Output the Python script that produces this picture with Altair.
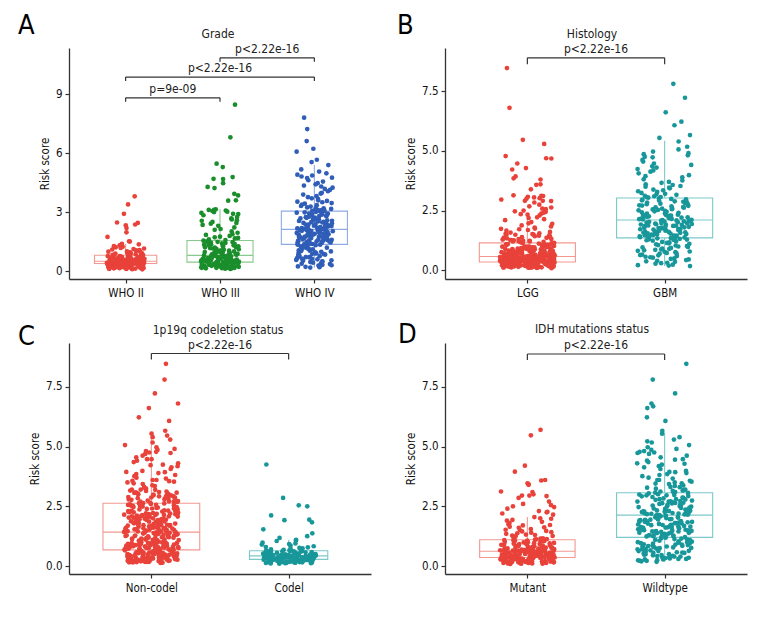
import altair as alt
import pandas as pd

FONT = "Liberation Sans Narrow, DejaVu Sans Condensed, Arial Narrow, Roboto, sans-serif"

# ---------------- data ----------------
grade_cats = ["WHO II", "WHO III", "WHO IV"]
who2_scores = [3.8, 3.39, 2.91, 2.47, 2.45, 2.37, 2.33, 2.19, 1.97, 1.74, 1.52, 1.5, 1.39, 1.36, 1.31, 1.24,
               1.21, 1.15, 1.12, 1.07, 1.03, 0.99, 0.96, 0.91, 0.89, 0.86, 0.83,
               0.8, 0.78, 0.77, 0.75, 0.74, 0.71, 0.7, 0.69, 0.66, 0.66, 0.64, 0.62, 0.61, 0.6, 0.58, 0.58,
               0.57, 0.55, 0.55, 0.54, 0.53, 0.53, 0.52, 0.51, 0.51, 0.5, 0.5, 0.5,
               0.49, 0.49, 0.48, 0.48, 0.47, 0.47, 0.46, 0.46, 0.45, 0.45, 0.45, 0.44, 0.44, 0.43, 0.43,
               0.43, 0.42, 0.42, 0.41, 0.41, 0.41, 0.4, 0.4, 0.4, 0.39, 0.39, 0.39, 0.39,
               0.38, 0.37, 0.36, 0.35, 0.35, 0.33, 0.32, 0.31, 0.3, 0.29, 0.28, 0.27, 0.26, 0.25, 0.24,
               0.23, 0.22, 0.21, 0.2, 0.19, 0.18, 0.16, 0.15, 0.13, 0.12, 0.1, 0.09,
               0.95, 0.93, 0.88, 0.84, 0.82, 0.79, 0.76, 0.73, 0.72, 0.68, 0.65, 0.63, 0.59, 0.57, 0.56,
               0.54, 0.52, 0.49, 0.47, 0.46, 0.44, 0.42, 0.41, 0.4, 0.38, 0.37, 0.36, 0.34, 0.33, 0.31,
               0.3, 0.29, 0.28, 0.27, 0.26, 0.25, 0.24, 0.23, 0.22, 0.21, 0.2, 0.19, 0.18, 0.17, 0.16,
               0.15, 0.14, 0.13, 0.12, 0.11, 1.18, 1.1, 1.05, 1.27, 1.0, 0.97, 0.61, 0.53, 0.48, 0.43]
who3_scores = [8.46, 6.8, 5.46, 5.29, 4.78, 4.69, 4.68, 4.47, 4.28, 4.22, 3.93, 3.85, 3.6, 3.58, 3.14, 3.11,
               3.08, 3.05, 3.02, 2.96, 2.91, 2.84, 2.63, 2.56, 2.41, 2.3, 2.14, 2.02, 1.88, 1.79, 1.69, 1.61,
               1.55, 1.53, 1.49, 1.47, 1.43, 1.41, 1.37, 1.34, 1.33, 1.29, 1.26, 1.24, 1.21, 1.17, 1.15,
               1.11, 1.09, 1.07, 1.04, 1.02, 1.0, 0.97, 0.96, 0.93, 0.92, 0.9, 0.88, 0.87, 0.85, 0.84,
               0.83, 0.82, 0.81,
               0.8, 0.79, 0.78, 0.76, 0.75, 0.73, 0.72, 0.71, 0.7, 0.68, 0.67, 0.66, 0.65, 0.63, 0.63,
               0.62, 0.6, 0.59, 0.58, 0.57, 0.56, 0.55, 0.54, 0.53, 0.52, 0.51, 0.5, 0.5, 0.49, 0.48,
               0.48, 0.47, 0.46,
               0.45, 0.44, 0.43, 0.42, 0.41, 0.4, 0.39, 0.38, 0.37, 0.36, 0.35, 0.34, 0.33, 0.32, 0.31,
               0.3, 0.29, 0.28, 0.27, 0.26, 0.25, 0.24, 0.23, 0.22, 0.21, 0.2, 0.19, 0.18, 0.17, 0.15,
               0.13, 0.11,
               2.9, 2.75, 2.68, 2.5, 2.45, 2.22, 2.1, 1.95, 1.84, 1.75, 1.66, 1.58, 1.5, 1.45, 1.39,
               1.31, 1.22, 1.19, 1.13, 1.06, 0.99, 0.94, 0.89, 0.86, 0.81, 0.77, 0.74, 0.69, 0.64, 0.61,
               0.57, 0.53, 0.49, 0.45, 0.43, 0.41, 0.38, 0.36, 0.34, 0.32, 0.3, 0.28, 0.26, 0.24, 0.22,
               0.2, 0.19, 0.17, 0.16, 0.14, 0.12, 3.0, 3.12, 2.58, 2.35, 1.72, 1.27, 1.01, 0.91, 0.55]
who4_scores = [7.8, 7.22, 6.61, 6.22, 6.07, 5.66, 5.54, 5.39, 5.17, 5.06, 4.97, 4.86, 4.81, 4.73, 4.62,
               4.47, 4.41, 4.3, 4.24, 4.13, 4.06, 3.94, 3.89, 3.81, 3.7, 3.66, 3.57, 3.53, 3.46, 3.43,
               3.35, 3.31, 3.24, 3.19, 3.16, 3.1, 3.07,
               3.04, 3.01, 2.97, 2.96, 2.92, 2.89, 2.87, 2.83, 2.8, 2.79, 2.74, 2.72, 2.7, 2.65, 2.64,
               2.6, 2.56, 2.55, 2.51, 2.49, 2.45, 2.43, 2.41, 2.37, 2.36, 2.33, 2.31, 2.28, 2.27, 2.24,
               2.22, 2.21, 2.19, 2.18, 2.16, 2.15, 2.14, 2.13,
               2.11, 2.08, 2.07, 2.04, 2.03, 2.0, 1.98, 1.97, 1.94, 1.92, 1.9, 1.88, 1.86, 1.85, 1.82,
               1.8, 1.78, 1.76, 1.74, 1.72, 1.71, 1.68, 1.66, 1.65, 1.62, 1.6, 1.58, 1.57, 1.54, 1.52,
               1.5, 1.48, 1.46, 1.44, 1.42, 1.4, 1.38, 1.37,
               1.34, 1.32, 1.28, 1.26, 1.21, 1.19, 1.15, 1.13, 1.09, 1.06, 1.04, 1.0, 0.98, 0.94, 0.91,
               0.88, 0.86, 0.82, 0.79, 0.76, 0.73, 0.7, 0.66, 0.63, 0.6, 0.57, 0.53, 0.5, 0.46, 0.43,
               0.4, 0.36, 0.32, 0.28, 0.24, 0.2, 0.18,
               4.9, 4.75, 4.55, 4.35, 4.18, 3.98, 3.76, 3.6, 3.5, 3.38, 3.28, 3.2, 3.12, 3.06, 2.99,
               2.93, 2.85, 2.77, 2.68, 2.62, 2.53, 2.47, 2.39, 2.32, 2.26, 2.2, 2.17, 2.1, 2.05, 2.01,
               1.96, 1.91, 1.87, 1.83, 1.79, 1.73, 1.69, 1.63, 1.59, 1.55, 1.51, 1.47, 1.43, 1.39, 1.35,
               1.3, 1.24, 1.17, 1.11, 1.02, 0.96, 0.9, 0.84, 0.78, 0.71, 0.64, 0.55, 0.48, 0.38, 0.3,
               0.22, 1.29, 1.45, 1.61, 1.77, 1.93, 2.09, 2.29, 2.58, 2.71]

histology_cats = ["LGG", "GBM"]
lgg_scores = who2_scores + who3_scores      # LGG = grade II + grade III
gbm_scores = who4_scores                    # GBM = grade IV

codel_cats = ["Non-codel", "Codel"]
noncodel_lgg_scores = [8.46, 6.8, 5.46, 5.29, 4.78, 4.69, 4.47, 4.22, 3.93, 3.85, 3.6, 3.14, 3.08, 3.02,
                       2.96, 2.91, 2.84, 2.63, 2.56, 2.47, 2.41, 2.33, 2.3, 2.19, 2.14, 2.02, 1.97, 1.88,
                       1.79, 1.74, 1.69, 1.61, 1.55, 1.52, 1.49, 1.43, 1.39, 1.34, 1.31, 1.26,
                       1.24, 1.21, 1.17, 1.15, 1.12, 1.09, 1.07, 1.03, 1.0, 0.97, 0.96, 0.93, 0.91, 0.89,
                       0.87, 0.85, 0.83, 0.81, 0.8, 0.78, 0.76, 0.75, 0.73, 0.71, 0.7, 0.69, 0.67, 0.66,
                       0.64, 0.63, 0.61, 0.6, 0.58, 0.57, 0.56, 0.55, 0.54, 0.53, 0.52, 0.51,
                       0.5, 0.5, 0.49, 0.48, 0.48, 0.47, 0.46, 0.46, 0.45, 0.44, 0.43, 0.43, 0.42, 0.41,
                       0.4, 0.4, 0.39, 0.38, 0.37, 0.36, 0.35, 0.34, 0.33, 0.32, 0.31, 0.3, 0.29, 0.28,
                       0.27, 0.26, 0.25, 0.24, 0.23, 0.22, 0.21, 0.2, 0.19, 0.18, 0.16, 0.14,
                       3.55, 3.2, 2.88, 2.7, 2.52, 2.38, 2.25, 2.08, 1.92, 1.83, 1.71, 1.64, 1.58, 1.47,
                       1.41, 1.36, 1.28, 1.19, 1.13, 1.05, 0.99, 0.94, 0.9, 0.86, 0.82, 0.79, 0.74, 0.72,
                       0.68, 0.65, 0.62, 0.59, 0.56, 0.53, 0.5, 0.47, 0.44, 0.42, 0.39, 0.36, 0.34, 0.32,
                       0.29, 0.27, 0.25, 0.23, 0.21, 0.2, 0.18, 0.17, 0.15, 0.13, 1.1, 0.97, 0.88, 0.77,
                       0.66, 0.55, 0.45, 0.35]
noncodel_scores = who4_scores + noncodel_lgg_scores
codel_scores = [4.25, 2.85, 2.54, 2.5, 2.12, 1.94, 1.92, 1.83, 1.54, 1.37, 1.25, 1.18, 1.1, 1.07, 1.05,
                0.98, 0.92, 0.86, 0.8, 0.74, 0.7, 0.66,
                0.64, 0.63, 0.62, 0.61, 0.6, 0.59, 0.58, 0.56, 0.55, 0.54, 0.53, 0.52, 0.51, 0.5, 0.49,
                0.48, 0.47, 0.46, 0.46, 0.45, 0.44, 0.44, 0.43,
                0.43, 0.42, 0.42, 0.41, 0.4, 0.4, 0.39, 0.38, 0.37, 0.37, 0.36, 0.35, 0.35, 0.34, 0.33,
                0.32, 0.32, 0.31, 0.3, 0.3, 0.29, 0.29, 0.28,
                0.27, 0.27, 0.26, 0.25, 0.25, 0.24, 0.23, 0.22, 0.22, 0.21, 0.2, 0.2, 0.19, 0.18, 0.17,
                0.17, 0.16, 0.15, 0.14, 0.13, 0.12, 0.1,
                0.9, 0.83, 0.76, 0.71, 0.68, 0.65, 0.62, 0.6, 0.57, 0.55, 0.52, 0.5, 0.48, 0.46, 0.45,
                0.43, 0.41, 0.4, 0.38, 0.36, 0.35, 0.33, 0.31, 0.3, 0.29, 0.27, 0.26, 0.24, 0.23, 0.21,
                0.2, 0.18, 0.17, 0.16, 0.14, 0.13, 0.12, 0.11, 0.95, 0.78]

idh_cats = ["Mutant", "Wildtype"]
mutant_scores = [5.7, 5.47, 4.2, 3.95, 3.6, 3.58, 3.46, 3.42, 3.4, 3.12, 3.1, 3.0, 2.95, 2.93, 2.85, 2.6,
                 2.5, 2.47, 2.3, 2.27, 2.25, 2.2, 2.05, 1.98, 1.93, 1.85, 1.75, 1.72, 1.65, 1.6, 1.55,
                 1.5, 1.45, 1.4, 1.35, 1.3, 1.26, 1.22, 1.19, 1.16, 1.13, 1.11,
                 1.09, 1.07, 1.05, 1.03, 1.01, 0.99, 0.97, 0.95, 0.93, 0.92, 0.9, 0.88, 0.87, 0.85, 0.84,
                 0.82, 0.81, 0.79, 0.78, 0.77, 0.75, 0.74, 0.73, 0.72, 0.71, 0.7, 0.69, 0.68, 0.67, 0.67,
                 0.66, 0.66, 0.65, 0.65, 0.64, 0.64, 0.63, 0.63,
                 0.62, 0.61, 0.61, 0.6, 0.6, 0.59, 0.58, 0.58, 0.57, 0.56, 0.56, 0.55, 0.54, 0.54, 0.53,
                 0.52, 0.52, 0.51, 0.5, 0.5, 0.49, 0.48, 0.48, 0.47, 0.46, 0.46, 0.45, 0.44, 0.44, 0.43,
                 0.42, 0.42, 0.41, 0.4, 0.4, 0.39, 0.39, 0.38, 0.38, 0.37, 0.37, 0.36,
                 0.35, 0.35, 0.34, 0.34, 0.33, 0.33, 0.32, 0.32, 0.31, 0.3, 0.3, 0.29, 0.29, 0.28, 0.27,
                 0.27, 0.26, 0.26, 0.25, 0.24, 0.24, 0.23, 0.23, 0.22, 0.21, 0.21, 0.2, 0.2, 0.19, 0.18,
                 0.18, 0.17, 0.16, 0.16, 0.15, 0.14, 0.13, 0.13, 0.12, 0.11, 0.1, 0.09,
                 2.95, 2.7, 2.55, 2.4, 2.15, 2.0, 1.9, 1.8, 1.7, 1.62, 1.52, 1.47, 1.42, 1.37, 1.32,
                 1.28, 1.24, 1.2, 1.15, 1.12, 1.08, 1.04, 1.0, 0.96, 0.92, 0.89, 0.86, 0.83, 0.8, 0.77,
                 0.74, 0.71, 0.68, 0.66, 0.63, 0.61, 0.59, 0.57, 0.55, 0.53, 0.51, 0.49, 0.47, 0.45,
                 0.43, 0.41, 0.39, 0.37, 0.35, 0.33, 0.31, 0.29, 0.27, 0.25, 0.23, 0.21, 0.19, 0.17,
                 0.15, 0.13, 0.11, 0.1, 0.6, 0.58, 0.5, 0.42, 0.34, 0.28, 0.22, 0.7, 0.76, 0.84, 0.94,
                 1.06, 0.2, 0.3, 0.4, 0.52, 0.64, 0.46]
wildtype_lgg_scores = [8.46, 6.8, 6.68, 5.29, 5.22, 4.78, 4.69, 4.28, 3.93, 3.6, 3.3, 3.08, 2.96, 2.8,
                       2.63, 2.5, 2.3, 2.1, 1.95, 1.8, 1.66, 1.5, 1.4, 1.3, 1.2, 1.1, 1.0, 0.95, 0.9,
                       0.82, 0.75, 0.7, 0.63, 0.58, 0.5, 0.45, 0.4, 0.35, 0.3, 0.25,
                       4.45, 3.85, 3.45, 3.15, 2.7, 2.4, 2.2, 1.85, 1.6, 1.45, 1.25, 1.05, 0.85, 0.72,
                       0.62, 0.55, 0.42, 0.33, 0.28, 0.22]
wildtype_scores = who4_scores + wildtype_lgg_scores

# box statistics: q1, median, q3, lower whisker, upper whisker
grade_stats = {"q1": [0.39, 0.46, 1.36], "med": [0.5, 0.8, 2.12], "q3": [0.81, 1.56, 3.05],
               "lo": [0.09, 0.11, 0.18], "hi": [1.39, 3.14, 5.39]}
histology_stats = {"q1": [0.35, 1.36], "med": [0.58, 2.11], "q3": [1.15, 3.03],
                   "lo": [0.09, 0.18], "hi": [2.3, 5.42]}
codel_stats = {"q1": [0.68, 0.28], "med": [1.42, 0.43], "q3": [2.63, 0.64],
               "lo": [0.14, 0.1], "hi": [5.45, 1.1]}
idh_stats = {"q1": [0.36, 1.2], "med": [0.62, 2.13], "q3": [1.1, 3.07],
             "lo": [0.09, 0.18], "hi": [2.05, 5.59]}

# comparison brackets: (group a, group b, p label)
grade_pairs = [(1, 2, "p=9e-09"), (1, 3, "p<2.22e-16"), (2, 3, "p<2.22e-16")]
grade_bracket_y = [8.81, 9.86, 10.84]
two_pairs = [(1, 2, "p<2.22e-16")]

# ---------------- styling ----------------
RED, GREEN, BLUE, TEAL = "#E8423A", "#1B8E2C", "#2F5DB7", "#18979A"
RED_B, GREEN_B, BLUE_B, TEAL_B = "#F29890", "#88C98C", "#8EAAE6", "#7CC8CA"
INK = "#333333"
W, H = 302, 231


def panel(letter, letter_xy, title, title_xy, cats, groups, colors, box_colors, stats, box_w,
          ydomain, yticks, yfmt, pairs, bracket_y, tip):
    n = len(cats)
    xs = alt.Scale(domain=[0.4, n + 0.6], nice=False, zero=False)
    ys = alt.Scale(domain=ydomain, nice=False, zero=False)

    rows = []
    for i, vals in enumerate(groups):
        for v in vals:
            rows.append({"cat": cats[i], "pos": i + 1, "value": v, "col": colors[i]})
    pts = pd.DataFrame(rows)

    bx = pd.DataFrame({"cat": cats, "pos": list(range(1, n + 1)), "w": box_w, "col": box_colors,
                       **stats})

    parts = [f"datum.value == {i + 1} ? '{c}'" for i, c in enumerate(cats[:-1])]
    label_expr = " : ".join(parts) + f" : '{cats[-1]}'"
    xaxis = alt.Axis(values=list(range(1, n + 1)), labelExpr=label_expr, title=None, tickSize=4,
                     labelPadding=4, grid=False)
    yaxis = alt.Axis(values=yticks, format=yfmt, title="Risk score", tickSize=4, labelPadding=3,
                     titlePadding=5, grid=False)

    base_b = alt.Chart(bx).transform_calculate(x1="datum.pos - datum.w/2", x2="datum.pos + datum.w/2")
    box = base_b.mark_rect(fillOpacity=0, strokeWidth=1.1).encode(
        x=alt.X("x1:Q", scale=xs, axis=xaxis), x2="x2:Q",
        y=alt.Y("q1:Q", scale=ys, axis=yaxis), y2="q3:Q",
        stroke=alt.Stroke("col:N", scale=None))
    med = base_b.mark_rule(strokeWidth=1.1).encode(
        x="x1:Q", x2="x2:Q", y="med:Q", stroke=alt.Stroke("col:N", scale=None))
    wu = base_b.mark_rule(strokeWidth=1.1).encode(
        x="pos:Q", y="q3:Q", y2="hi:Q", stroke=alt.Stroke("col:N", scale=None))
    wl = base_b.mark_rule(strokeWidth=1.1).encode(
        x="pos:Q", y="lo:Q", y2="q1:Q", stroke=alt.Stroke("col:N", scale=None))

    dots = alt.Chart(pts).transform_window(rn="row_number()").transform_calculate(
        h="sin(datum.rn * 12.9898 + datum.pos * 78.233) * 43758.5453"
    ).transform_calculate(
        jx="datum.pos + (datum.h - floor(datum.h) - 0.5) * 0.4"
    ).mark_circle(size=22, opacity=1).encode(
        x=alt.X("jx:Q", scale=xs), y=alt.Y("value:Q", scale=ys),
        color=alt.Color("col:N", scale=None))

    segs = []
    labs = []
    for (a, b, lab), hy in zip(pairs, bracket_y):
        segs.append({"x": a, "x2": b, "y": hy, "y2": hy})
        segs.append({"x": a, "x2": a, "y": hy, "y2": hy - tip})
        segs.append({"x": b, "x2": b, "y": hy, "y2": hy - tip})
        labs.append({"x": (a + b) / 2, "y": hy, "t": lab})
    br = alt.Chart(pd.DataFrame(segs)).mark_rule(color=INK, strokeWidth=1.2).encode(
        x=alt.X("x:Q", scale=xs), x2="x2:Q", y=alt.Y("y:Q", scale=ys), y2="y2:Q")
    brl = alt.Chart(pd.DataFrame(labs)).mark_text(
        font=FONT, fontSize=12, baseline="bottom", dy=-2, color="#222").encode(
        x=alt.X("x:Q", scale=xs), y=alt.Y("y:Q", scale=ys), text="t:N")

    tdf = pd.DataFrame({"t": [title], "l": [letter]})
    ttl = alt.Chart(tdf).mark_text(font=FONT, fontSize=12, baseline="middle", align="center",
                                   color="#222").encode(
        x=alt.value(title_xy[0]), y=alt.value(title_xy[1]), text="t:N")
    let = alt.Chart(tdf).mark_text(font=FONT, fontSize=27, baseline="alphabetic", align="left",
                                   color="#000").encode(
        x=alt.value(letter_xy[0]), y=alt.value(letter_xy[1]), text="l:N")

    return alt.layer(box, med, wu, wl, dots, br, brl, ttl, let).properties(width=W, height=H)


pA = panel("A", (-51, -14), "Grade", (149, -14.5), grade_cats,
           [who2_scores, who3_scores, who4_scores], [RED, GREEN, BLUE], [RED_B, GREEN_B, BLUE_B],
           grade_stats, [0.66, 0.7, 0.7], [-0.4, 11.34], [0, 3, 6, 9], "d",
           grade_pairs, grade_bracket_y, 0.2)
pB = panel("B", (-48, -14), "Histology", (147, -14), histology_cats,
           [lgg_scores, gbm_scores], [RED, TEAL], [RED_B, TEAL_B],
           histology_stats, [0.7, 0.7], [-0.36, 9.3], [0, 2.5, 5, 7.5], ".1f",
           two_pairs, [8.89], 0.27)
pC = panel("C", (-51, 1.5), "1p19q codeletion status", (149, -13), codel_cats,
           [noncodel_scores, codel_scores], [RED, TEAL], [RED_B, TEAL_B],
           codel_stats, [0.705, 0.57], [-0.33, 9.33], [0, 2.5, 5, 7.5], ".1f",
           two_pairs, [8.89], 0.25)
pD = panel("D", (-47, 0), "IDH mutations status", (147, -14), idh_cats,
           [mutant_scores, wildtype_scores], [RED, TEAL], [RED_B, TEAL_B],
           idh_stats, [0.695, 0.7], [-0.33, 9.33], [0, 2.5, 5, 7.5], ".1f",
           two_pairs, [8.87], 0.25)

chart = alt.concat(pA, pB, pC, pD, columns=2, spacing=alt.RowColnumber(row=64, column=74),
                   bounds="flush").properties(
    padding={"left": 10, "top": 4, "right": 5, "bottom": 5}, background="white"
).configure_view(stroke=None).configure_axis(
    grid=False, domainColor=INK, tickColor=INK, domainWidth=1.3, tickWidth=1.2,
    labelColor="#111", titleColor="#111", labelFont=FONT, titleFont=FONT,
    labelFontSize=11.5, titleFontSize=11.5, titleFontWeight="normal"
)

chart.save("out.html", embed_options={"renderer": "svg", "actions": False})
